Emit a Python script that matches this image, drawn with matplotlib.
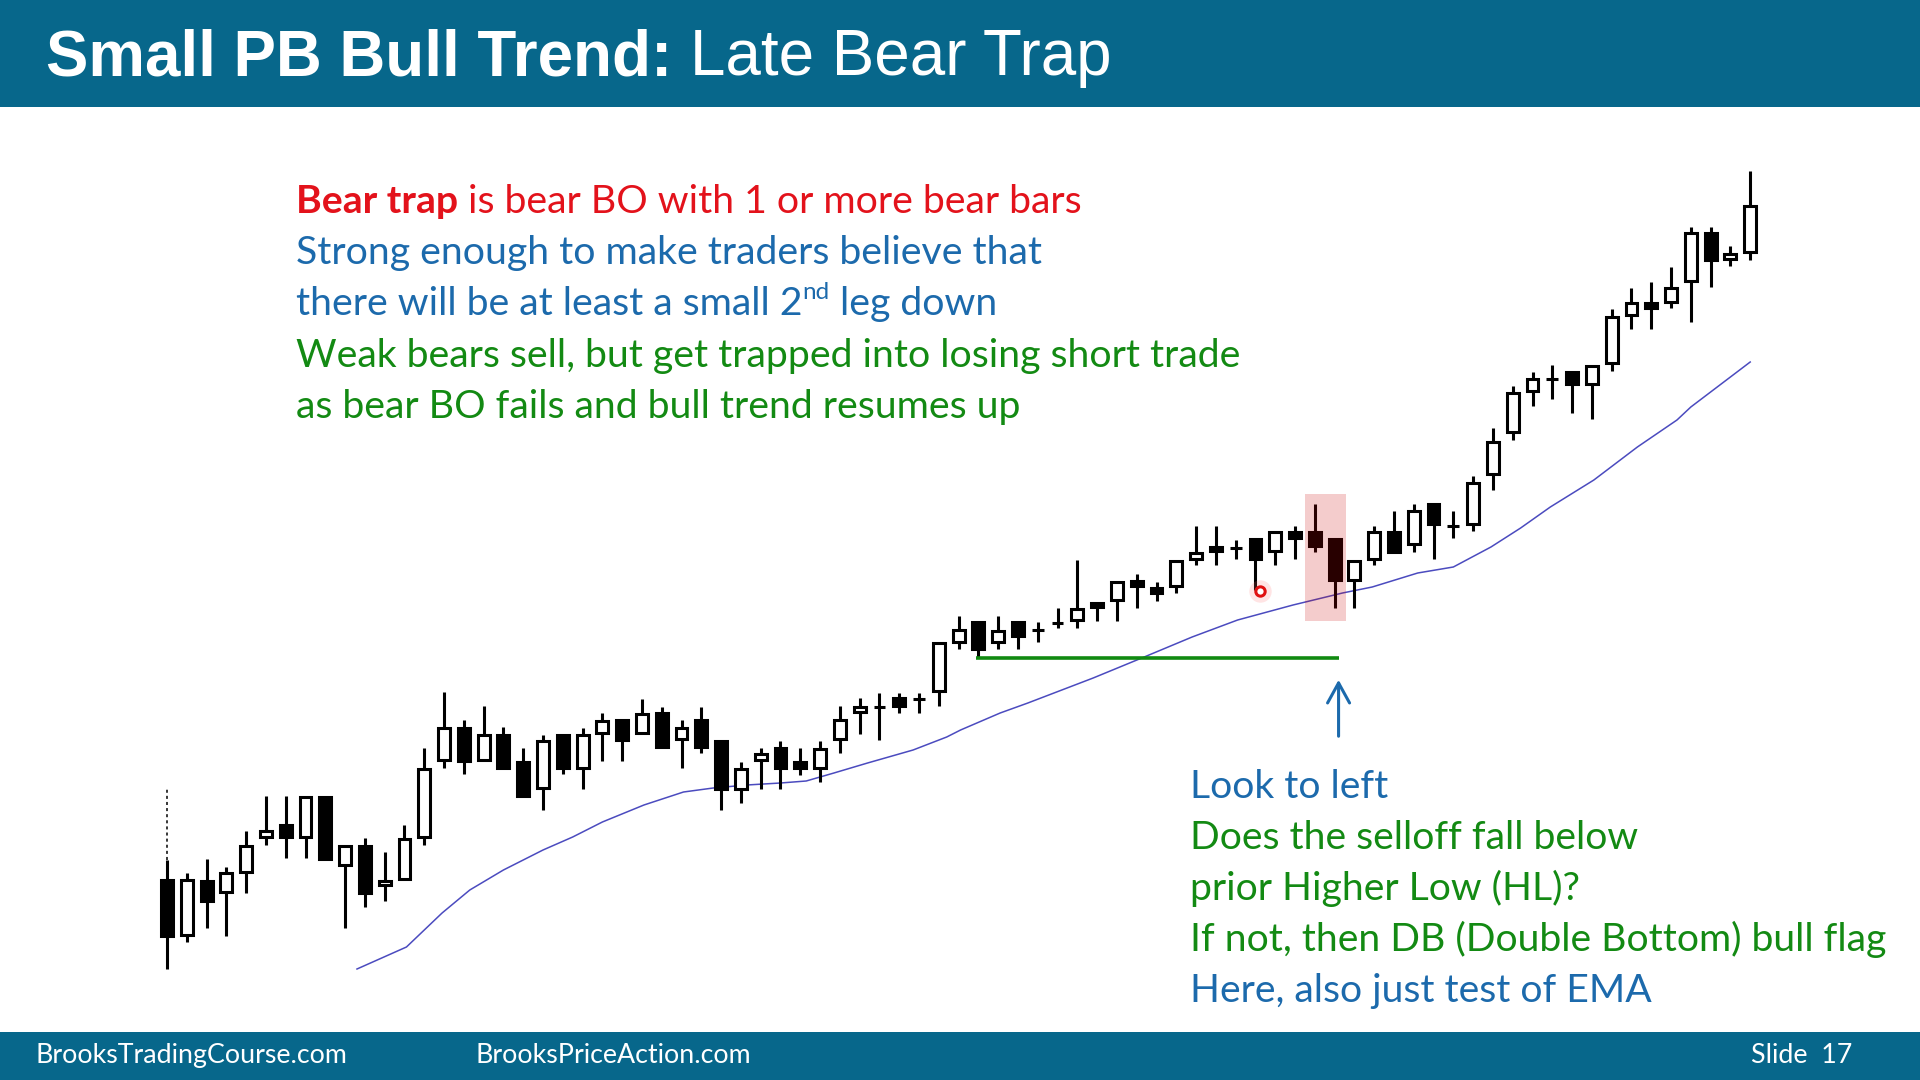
import matplotlib
matplotlib.use('Agg')
import matplotlib.pyplot as plt
from matplotlib.patches import Rectangle

# Bar data, price units
opens = [120, 65, 119, 108, 128, 163, 175, 163, 203, 135, 154, 115, 121, 163, 240, 272,
         240, 265, 238, 212, 265, 232, 267, 280, 267, 287, 261, 280, 259, 211, 240, 252,
         238, 232, 261, 288, 293, 302, 301, 309, 358, 378, 358, 378, 370, 377, 380, 397,
         400, 419, 412, 414, 441, 453, 452, 461, 449, 468, 468, 461, 420, 441, 468, 456,
         496, 474, 476, 526, 568, 609, 621, 628, 616, 637, 685, 697, 698, 719, 767, 741, 748]
highs = [140, 127, 141, 133, 169, 204, 204, 203, 203, 154, 162, 148, 175, 252, 308, 280,
         294, 273, 252, 265, 265, 272, 287, 280, 301, 293, 280, 293, 259, 238, 252, 259,
         252, 259, 294, 302, 307, 307, 307, 357, 384, 378, 384, 378, 378, 392, 440, 397,
         418, 426, 418, 439, 474, 474, 460, 461, 468, 474, 496, 461, 439, 474, 489, 496,
         496, 489, 524, 572, 614, 628, 635, 628, 634, 691, 712, 718, 733, 773, 773, 754, 829]
lows = [31, 58, 72, 64, 107, 155, 142, 142, 141, 72, 93, 99, 121, 155, 232, 226,
        240, 232, 204, 190, 226, 211, 239, 239, 267, 253, 232, 247, 190, 197, 211, 211,
        225, 218, 247, 266, 260, 287, 287, 294, 351, 343, 351, 351, 358, 372, 372, 379,
        379, 392, 399, 407, 435, 435, 441, 410, 435, 441, 448, 392, 392, 435, 448, 448,
        441, 462, 469, 510, 560, 594, 601, 587, 581, 629, 671, 671, 692, 678, 713, 734, 740]
closes = [64, 120, 99, 127, 154, 169, 163, 203, 141, 154, 107, 119, 161, 231, 272, 239,
          265, 232, 204, 259, 232, 265, 279, 260, 286, 253, 272, 253, 211, 231, 246, 232,
          232, 251, 280, 293, 293, 294, 301, 357, 370, 351, 369, 364, 370, 377, 391, 393,
          418, 414, 407, 439, 447, 449, 452, 441, 468, 462, 454, 420, 439, 468, 448, 489,
          476, 474, 517, 558, 607, 621, 621, 616, 634, 683, 697, 692, 712, 767, 740, 746, 794]

# EMA read at bar positions
ema_x = [9.6, 12.1, 13.9, 15.3, 17.0, 19.0, 20.5, 22.0, 24.1, 26.1, 27.6, 29.3, 31.0,
         32.3, 33.7, 35.4, 37.7, 39.4, 40.1, 42.1, 43.5, 46.8, 49.5, 51.8, 54.1, 56.9,
         59.4, 60.9, 63.2, 65.0, 66.9, 68.4, 69.9, 72.1, 74.3, 76.3, 77.0, 80.0]
ema_y = [31, 53, 87, 110, 130, 150, 163, 178, 195, 208, 212, 215, 217,
         219, 227, 237, 250, 263, 270, 287, 297, 322, 344, 363, 380, 395,
         407, 413, 427, 433, 453, 472, 493, 520, 553, 580, 593, 638]

# Annotations
session_mark_top = 212      # dotted line above first bar
hl_bar = 41                 # higher low bar, start of green line
hl_level = 342
line_end_x = 59.2           # green line / arrow x
arrow_from, arrow_to = 261, 323
trap_first, trap_last = 58, 59
trap_top, trap_bottom = 506, 379
dot_bar = 55

title_bold = 'Small PB Bull Trend:'
title_rest = 'Late Bear Trap'
footer_left = 'BrooksTradingCourse.com'
footer_mid = 'BrooksPriceAction.com'
footer_right = 'Slide  17'

W, H = 1920, 1080
BANNER = '#07678b'
RED = '#e3121b'
BLUE = '#1c6aac'
GREEN = '#138a13'
SANS = ['Lato', 'DejaVu Sans']


def text_width(fig, renderer, s, props):
    t = fig.text(0, 0, s, **props)
    w = t.get_window_extent(renderer).width
    t.remove()
    return w


def fit_size(fig, renderer, s, target, props):
    p = dict(props)
    p['fontsize'] = 20
    return 20 * target / text_width(fig, renderer, s, p)


def draw_runs(fig, renderer, x, y, parts):
    # draw pieces of text one after another on the same baseline (pixel coords)
    for s, props in parts:
        props = dict(props)
        rise = props.pop('rise', 0)
        n_lead = len(s) - len(s.lstrip(' '))
        s = s.lstrip(' ')
        if n_lead:
            sp = text_width(fig, renderer, 'a a', props) - text_width(fig, renderer, 'aa', props)
            x += n_lead * sp
        t = fig.text(x / W, 1 - (y - rise) / H, s, ha='left', va='baseline', **props)
        x += t.get_window_extent(renderer).width
    return x


def plot_candles(ax):
    body_w = 0.6
    for i, (o, h, l, c) in enumerate(zip(opens, highs, lows, closes)):
        ax.vlines(i, l, h, color='black', lw=2.2, zorder=2)
        face = 'white' if c >= o else 'black'
        ax.add_patch(Rectangle((i - body_w / 2, min(o, c)), body_w, abs(c - o),
                               facecolor=face, edgecolor='black', lw=2.2, zorder=3))
    ax.vlines(0, highs[0], session_mark_top, color='black', lw=1.1,
              linestyles=(0, (2, 2)), zorder=2)
    ax.plot(ema_x, ema_y, color='#4b4bbf', lw=1.1, zorder=1)

    # bear trap bars highlight
    ax.add_patch(Rectangle((trap_first - 0.5, trap_bottom), trap_last - trap_first + 1.1,
                           trap_top - trap_bottom, facecolor='#cc0000', alpha=0.2,
                           edgecolor='none', zorder=4))
    # prior higher low
    ax.plot([hl_bar - 0.1, line_end_x], [hl_level, hl_level], color='#108a10', lw=2.6,
            solid_capstyle='butt', zorder=2)
    ax.annotate('', xy=(line_end_x, arrow_to), xytext=(line_end_x, arrow_from),
                arrowprops=dict(arrowstyle='->,head_length=0.4,head_width=0.22',
                                mutation_scale=36, lw=2.2, color=BLUE))
    # cursor dot
    ax.scatter([dot_bar + 0.25], [lows[dot_bar] - 1], s=260, color='#ff6b6b', alpha=0.18,
               linewidths=0, zorder=5)
    ax.scatter([dot_bar + 0.25], [lows[dot_bar] - 1], s=45, facecolor='white',
               edgecolor='#e01010', linewidths=2.2, zorder=6)


def main():
    fig = plt.figure(figsize=(W / 100, H / 100), dpi=100, facecolor='white')
    ax = fig.add_axes([0, 0, 1, 1])
    ax.set_facecolor('none')
    ax.axis('off')
    ax.set_xlim(-167 / 19.79, (W - 167) / 19.79)
    ax.set_ylim(-80, 1000)

    fig.patches.append(Rectangle((0, 1 - 107 / H), 1, 107 / H, transform=fig.transFigure,
                                 facecolor=BANNER, edgecolor='none', zorder=0))
    fig.patches.append(Rectangle((0, 0), 1, 48 / H, transform=fig.transFigure,
                                 facecolor=BANNER, edgecolor='none', zorder=0))

    plot_candles(ax)

    renderer = fig.canvas.get_renderer()

    # title
    tprops = dict(family=['Liberation Sans', 'DejaVu Sans'], color='white')
    tsize = fit_size(fig, renderer, title_bold, 625, dict(tprops, weight='bold'))
    draw_runs(fig, renderer, 46, 75, [
        (title_bold, dict(tprops, weight='bold', fontsize=tsize)),
        (' ' + title_rest, dict(tprops, fontsize=tsize)),
    ])

    # top text block
    base = dict(family=SANS)
    size = fit_size(fig, renderer, 'Weak bears sell, but get trapped into losing short trade',
                    948, base)
    def p(color, **kw):
        return dict(base, color=color, fontsize=size, **kw)
    x0 = 296
    draw_runs(fig, renderer, x0, 213, [('Bear trap', p(RED, weight='bold')),
                                       (' is bear BO with 1 or more bear bars', p(RED))])
    draw_runs(fig, renderer, x0, 264, [('Strong enough to make traders believe that', p(BLUE))])
    draw_runs(fig, renderer, x0, 315, [
        ('there will be at least a small 2', p(BLUE)),
        ('nd', dict(base, color=BLUE, fontsize=size * 0.62, rise=size * 0.55)),
        (' leg down', p(BLUE)),
    ])
    draw_runs(fig, renderer, x0, 367,
              [('Weak bears sell, but get trapped into losing short trade', p(GREEN))])
    draw_runs(fig, renderer, x0, 418, [('as bear BO fails and bull trend resumes up', p(GREEN))])

    # bottom right text block
    bsize = fit_size(fig, renderer, 'If not, then DB (Double Bottom) bull flag', 698, base)
    lines = [('Look to left', BLUE), ('Does the selloff fall below', GREEN),
             ('prior Higher Low (HL)?', GREEN),
             ('If not, then DB (Double Bottom) bull flag', GREEN),
             ('Here, also just test of EMA', BLUE)]
    for k, (s, col) in enumerate(lines):
        draw_runs(fig, renderer, 1190, 798 + k * 51, [(s, dict(base, color=col, fontsize=bsize))])

    # footer
    fprops = dict(family=SANS, color='white')
    fsize = fit_size(fig, renderer, footer_left, 311, fprops)
    for x, s in [(36, footer_left), (475, footer_mid), (1751, footer_right)]:
        draw_runs(fig, renderer, x, 1063, [(s, dict(fprops, fontsize=fsize))])

    fig.savefig('out.png', dpi=100, facecolor='white')


if __name__ == "__main__":
    main()
